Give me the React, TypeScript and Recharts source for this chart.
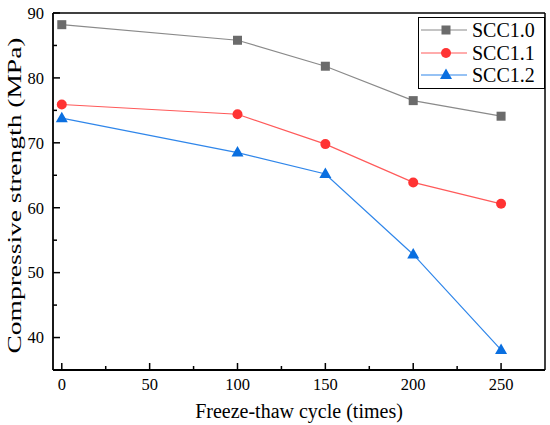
import {
  Label,
  Legend,
  Line,
  LineChart,
  ReferenceLine,
  XAxis,
  YAxis,
} from "recharts";

const CYCLES = [0, 100, 150, 200, 250];
const SCC10 = [88.2, 85.8, 81.8, 76.5, 74.1];
const SCC11 = [75.9, 74.4, 69.8, 63.9, 60.6];
const SCC12 = [73.8, 68.5, 65.2, 52.8, 38.1];

const X_TICKS = [0, 25, 50, 75, 100, 125, 150, 175, 200, 225, 250];
const Y_TICKS = [40, 45, 50, 55, 60, 65, 70, 75, 80, 85, 90];

const FONT = "Liberation Serif, serif";

const data = CYCLES.map((c, i) => ({
  cycle: c,
  scc10: SCC10[i],
  scc11: SCC11[i],
  scc12: SCC12[i],
}));

type Shape = "square" | "circle" | "triangle";

const SERIES: { key: string; name: string; line: string; marker: string; shape: Shape }[] = [
  { key: "scc10", name: "SCC1.0", line: "#8a8a8a", marker: "#6b6b6b", shape: "square" },
  { key: "scc11", name: "SCC1.1", line: "#ff5a5a", marker: "#ff3333", shape: "circle" },
  { key: "scc12", name: "SCC1.2", line: "#2f86ea", marker: "#0a6fe0", shape: "triangle" },
];

function Marker({ cx, cy, shape, color }: { cx: number; cy: number; shape: Shape; color: string }) {
  if (shape === "square") {
    return <rect x={cx - 4.5} y={cy - 4.5} width={9} height={9} fill={color} />;
  }
  if (shape === "circle") {
    return <circle cx={cx} cy={cy} r={5} fill={color} />;
  }
  return (
    <polygon
      points={`${cx},${cy - 6.5} ${cx - 6},${cy + 4} ${cx + 6},${cy + 4}`}
      fill={color}
    />
  );
}

const textStyle = { fontFamily: FONT };

function XTick(props: any) {
  const { x, y, payload } = props;
  const major = payload.value % 50 === 0;
  return (
    <g>
      <line x1={x} x2={x} y1={y} y2={y - (major ? 7 : 4)} stroke="#000" strokeWidth={1.5} />
      {major && (
        <text x={x} y={y + 20} textAnchor="middle" style={textStyle} fontSize={16.5} fill="#000">
          {payload.value}
        </text>
      )}
    </g>
  );
}

function YTick(props: any) {
  const { x, y, payload } = props;
  const major = payload.value % 10 === 0;
  return (
    <g>
      <line x1={x} x2={x + (major ? 7 : 4)} y1={y} y2={y} stroke="#000" strokeWidth={1.5} />
      {major && (
        <text
          x={x - 9}
          y={y}
          dy="0.35em"
          textAnchor="end"
          style={textStyle}
          fontSize={16.5}
          fill="#000"
        >
          {payload.value}
        </text>
      )}
    </g>
  );
}

function LegendBox() {
  return (
    <div
      style={{
        position: "relative",
        width: 127,
        height: 72,
        border: "1.5px solid #000",
        boxSizing: "border-box",
        background: "#fff",
      }}
    >
      {SERIES.map((s, i) => (
        <div
          key={s.key}
          style={{ position: "absolute", left: 0, top: 1 + i * 22.5, height: 22, width: 125 }}
        >
          <svg width={52} height={22} style={{ position: "absolute", left: 0, top: 0 }}>
            <line x1={2} x2={48} y1={11} y2={11} stroke={s.line} strokeWidth={1.2} />
            <Marker cx={27} cy={11} shape={s.shape} color={s.marker} />
          </svg>
          <span
            style={{
              position: "absolute",
              left: 53,
              top: 0,
              lineHeight: "22px",
              fontFamily: FONT,
              fontSize: 20,
              color: "#000",
            }}
          >
            {s.name}
          </span>
        </div>
      ))}
    </div>
  );
}

export default function App() {
  return (
    <div style={{ position: "absolute", left: 0, top: 0, background: "#fff" }}>
      <LineChart
        width={550}
        height={425}
        data={data}
        margin={{ top: 13, right: 5, left: 0, bottom: 0 }}
      >
        <XAxis
          dataKey="cycle"
          type="number"
          domain={[-5, 275]}
          ticks={X_TICKS}
          allowDataOverflow
          height={55}
          tickSize={0}
          tickMargin={0}
          tickLine={false}
          tick={<XTick />}
          axisLine={{ stroke: "#000", strokeWidth: 1.8 }}
        >
          <Label
            content={(p: any) => {
              const vb = p.viewBox;
              return (
                <text
                  x={vb.x + vb.width / 2}
                  y={vb.y + 48}
                  textAnchor="middle"
                  style={textStyle}
                  fontSize={20}
                  fill="#000"
                >
                  Freeze-thaw cycle (times)
                </text>
              );
            }}
          />
        </XAxis>
        <YAxis
          type="number"
          domain={[35, 90]}
          ticks={Y_TICKS}
          allowDataOverflow
          width={53}
          tickSize={0}
          tickMargin={0}
          tickLine={false}
          tick={<YTick />}
          axisLine={{ stroke: "#000", strokeWidth: 1.8 }}
        >
          <Label
            content={(p: any) => {
              const vb = p.viewBox;
              const cx = vb.x + 21;
              const cy = vb.y + vb.height / 2 + 4;
              return (
                <text
                  x={cx}
                  y={cy}
                  textAnchor="middle"
                  transform={`rotate(-90 ${cx} ${cy})`}
                  style={textStyle}
                  fontSize={19}
                  textLength={316}
                  lengthAdjust="spacingAndGlyphs"
                  fill="#000"
                >
                  Compressive strength (MPa)
                </text>
              );
            }}
          />
        </YAxis>
        <ReferenceLine y={90} stroke="#000" strokeWidth={1.5} />
        <ReferenceLine x={275} stroke="#000" strokeWidth={1.5} />
        <Legend
          layout="horizontal"
          align="center"
          verticalAlign="middle"
          wrapperStyle={{ top: 17, left: 418, width: 127, height: 72 }}
          content={() => <LegendBox />}
        />
        {SERIES.map((s) => (
          <Line
            key={s.key}
            type="linear"
            dataKey={s.key}
            name={s.name}
            stroke={s.line}
            strokeWidth={1.2}
            isAnimationActive={false}
            dot={(p: any) => (
              <Marker key={`${s.key}-${p.index}`} cx={p.cx} cy={p.cy} shape={s.shape} color={s.marker} />
            )}
            activeDot={false}
          />
        ))}
      </LineChart>
    </div>
  );
}
